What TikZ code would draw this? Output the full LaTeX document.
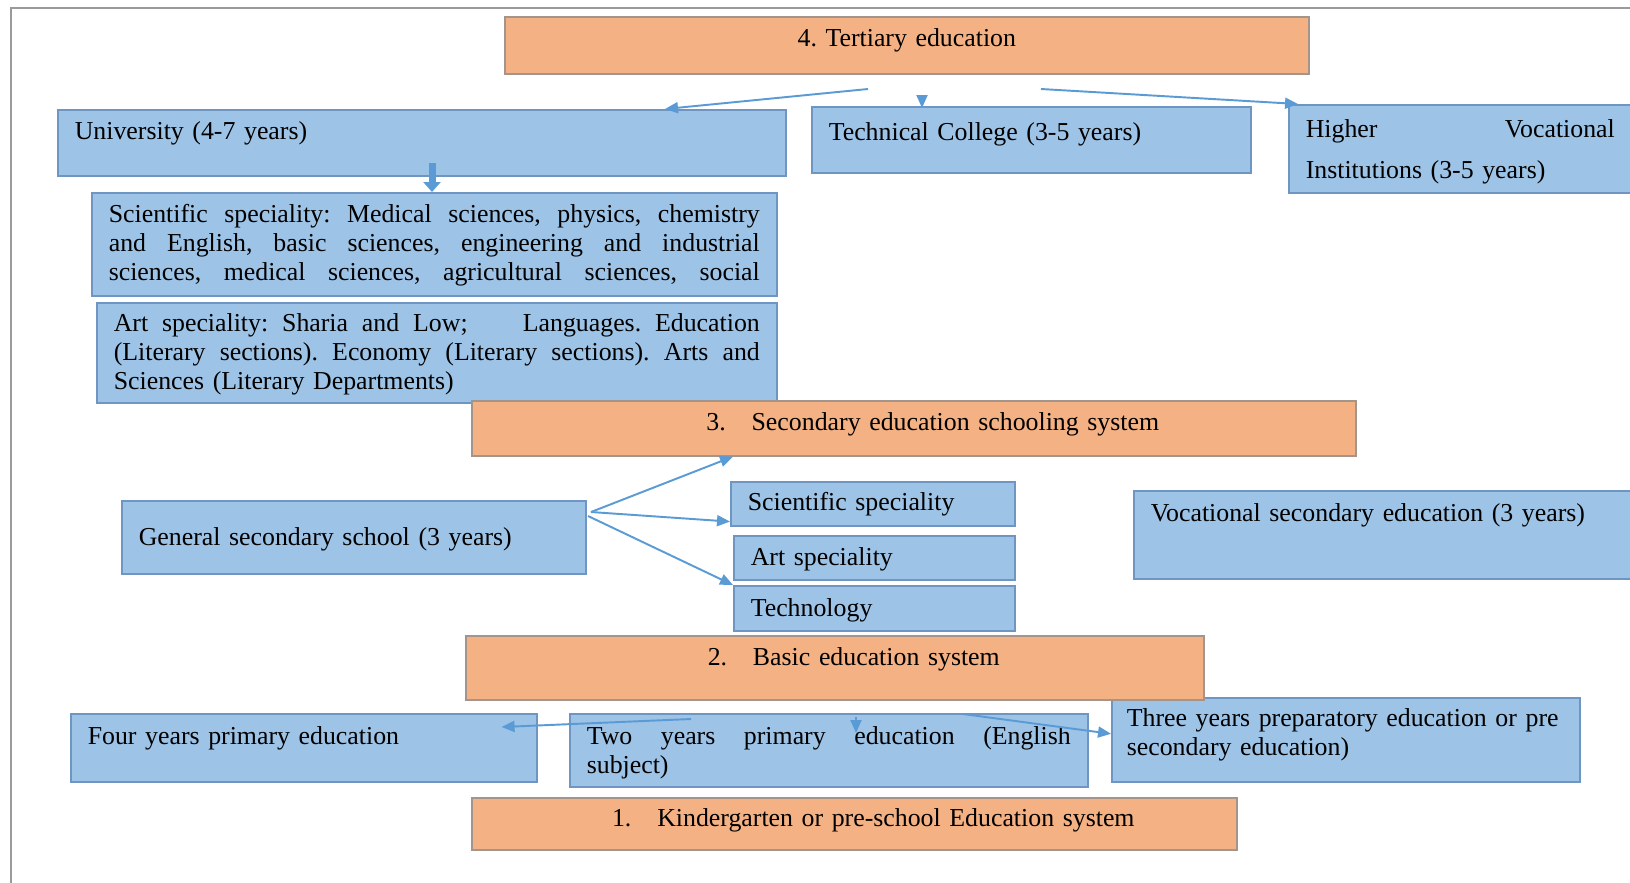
\documentclass[tikz,border=0pt]{standalone}
\usepackage{fontspec}
\setmainfont{Liberation Serif}
\usetikzlibrary{arrows.meta,calc}
\definecolor{Peach}{HTML}{F4B183}
\definecolor{PeachLine}{HTML}{A3958C}
\definecolor{Sky}{HTML}{9DC3E6}
\definecolor{SkyLine}{HTML}{6F96C2}
\definecolor{Link}{HTML}{5B9BD5}
\definecolor{Frame}{HTML}{9A9A9A}
\newcommand{\edufont}{\fontsize{7.35}{8.15}\selectfont\frenchspacing}
\newcommand{\jline}[1]{\makebox[\linewidth][s]{\spaceskip=0pt\xspaceskip=0pt #1}}

\begin{document}
\begin{tikzpicture}[x=0.1mm,y=-0.1mm,
    edu/.style={anchor=north west,inner ysep=0pt,line width=0.45pt,font=\edufont},
    level/.style={edu,draw=PeachLine,fill=Peach,align=center,inner xsep=0pt},
    blk/.style={edu,draw=SkyLine,fill=Sky,align=left,inner xsep=1.7mm},
    dims/.style n args={3}{text width=#1,text height=#2,text depth=#3},
    arr/.style={-{Triangle[length=1.3mm,width=1.1mm]},line width=0.55pt,Link},
    bigarr/.style={-{Triangle[length=1mm,width=1.7mm]},line width=0.7mm,Link}
  ]
  \useasboundingbox (0,0) rectangle (1630,882);
  \clip (0,0) rectangle (1630,882);
  \fill[white] (0,0) rectangle (1630,882);
  \draw[Frame,line width=0.5pt] (1640,8) -- (11,8) -- (11,890);

  % tertiary level
  \node[level,dims={80.4mm}{3mm}{2.7mm}] (tert) at (504,16) {4. Tertiary education};
  \node[blk,dims={69.4mm}{3mm}{3.6mm}] (uni) at (57,109) {University (4-7 years)};
  \node[blk,dims={40.5mm}{3.4mm}{3.2mm}] (tech) at (811,106) {Technical College (3-5 years)};
  \node[blk,dims={40mm}{3.3mm}{5.5mm}] (hv) at (1288,104)
    {\jline{\makebox[30.9mm][s]{\spaceskip=0pt Higher Vocational}}\\[3.3pt]Institutions (3-5 years)};
  \node[blk,dims={65.1mm}{3mm}{7.3mm}] (sci) at (91,192) {
    \jline{Scientific speciality: Medical sciences, physics, chemistry}\\
    \jline{and English, basic sciences, engineering and industrial}\\
    \jline{sciences, medical sciences, agricultural sciences, social}};
  \node[blk,dims={64.6mm}{2.9mm}{7.1mm}] (art) at (96,302) {
    \jline{Art speciality: Sharia and Low;\hspace{1.6em} Languages. Education}\\
    \jline{(Literary sections). Economy (Literary sections). Arts and}\\
    Sciences (Literary Departments)};

  % secondary level
  \node[level,dims={88.4mm}{3mm}{2.5mm}] (sec) at (471,400)
    {\hspace*{3.8mm}3.\quad Secondary education schooling system};
  \node[blk,dims={43mm}{4.5mm}{2.8mm}] (gen) at (121,500) {General secondary school (3 years)};
  \node[blk,dims={25mm}{2.9mm}{1.5mm}] (ssci) at (730,481) {Scientific speciality};
  \node[blk,dims={24.7mm}{3mm}{1.4mm}] (sart) at (733,535) {Art speciality};
  \node[blk,dims={24.7mm}{3.1mm}{1.4mm}] (stech) at (733,585) {Technology};
  \node[blk,dims={50mm}{3.1mm}{5.7mm}] (voc) at (1133,490) {Vocational secondary education (3 years)};

  % basic level
  \node[blk,inner xsep=1.5mm,dims={43.8mm}{2.9mm}{5.5mm}] (three) at (1111,697)
    {Three years preparatory education or pre\\secondary education)};
  \node[level,dims={73.8mm}{3mm}{3.4mm}] (basic) at (465,635)
    {\hspace*{3.8mm}2.\quad Basic education system};
  \node[blk,dims={43.2mm}{3.1mm}{3.7mm}] (four) at (70,713) {Four years primary education};
  \node[blk,dims={48.4mm}{3.1mm}{4.2mm}] (two) at (569,713)
    {\jline{Two years primary education (English}\\subject)};

  % kindergarten
  \node[level,dims={76.5mm}{2.9mm}{2.3mm}] (kg) at (471,797)
    {\hspace*{3.8mm}1.\quad Kindergarten or pre-school Education system};

  % connectors
  \coordinate (tL) at (868,89);
  \coordinate (tM) at (922,96);
  \coordinate (tR) at (1041,89);
  \draw[arr] (tL) -- (665,0 |- uni.north);
  \draw[arr] (tM) -- ($(922,0 |- tech.north)+(0,2)$);
  \draw[arr] (tR) -- (1298,0 |- hv.north);
  \draw[bigarr] (432,163) -- (432,0 |- sci.north);

  \coordinate (fan) at (591,512);
  \draw[arr] (fan) -- (733,0 |- sec.south);
  \draw[arr] (fan) -- ($(ssci.south west)+(0,-5)$);
  \draw[arr] (588,516) -- (stech.north west);

  \coordinate (bL) at (691,719);
  \coordinate (bM) at (856,717);
  \coordinate (bR) at (963,714);
  \draw[arr] (bL) -- ($(four.north east)+(-36,14)$);
  \draw[arr] (bM) -- (856,733);
  \draw[arr] (bR) -- ($(three.west)+(0,-6)$);
\end{tikzpicture}
\end{document}
